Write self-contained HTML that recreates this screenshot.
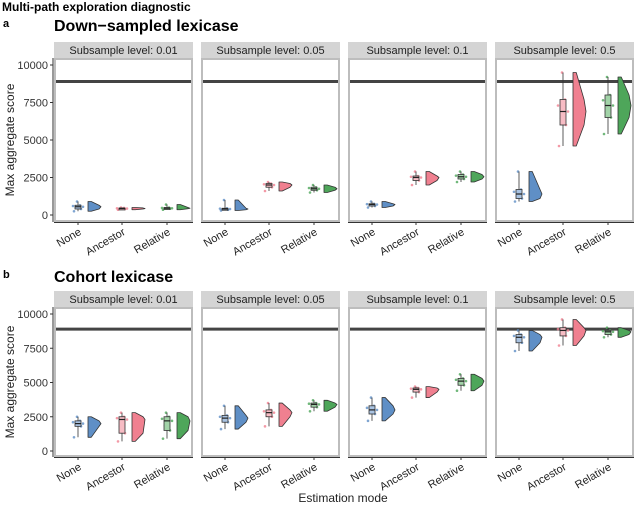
<!DOCTYPE html>
<html><head><meta charset="utf-8"><style>
body{margin:0;background:#fff;}
svg{display:block;font-family:"Liberation Sans",sans-serif;}
</style></head><body>
<svg id="c" width="640" height="508" viewBox="0 0 640 508"></svg>
<script>
const modes=["None","Ancestor","Relative"];
const levels=["0.01","0.05","0.1","0.5"];
const yTicks=[0,2500,5000,7500,10000];
const refLine=8900;
// stats per facet per mode: [min,q1,median,q3,max]
const downStats=[
 [[250,400,550,650,900],[350,400,430,470,500],[350,420,450,500,700]],
 [[300,350,400,450,1000],[1600,1850,2000,2100,2200],[1500,1650,1750,1850,2000]],
 [[500,600,700,750,900],[2000,2300,2500,2600,2900],[2200,2400,2550,2700,2900]],
 [[900,1100,1400,1700,2900],[4600,6000,6900,7700,9500],[5400,6500,7300,8000,9200]]
];
const cohortStats=[
 [[1000,1800,2000,2200,2500],[700,1300,2300,2500,2800],[900,1500,2200,2500,2800]],
 [[1600,2100,2400,2600,3300],[1800,2500,2800,3000,3500],[2900,3200,3400,3500,3700]],
 [[2200,2700,3000,3300,3900],[3900,4300,4500,4600,4700],[4400,4800,5100,5300,5600]],
 [[7300,7900,8300,8500,8800],[7700,8400,8800,9000,9600],[8300,8500,8700,8800,9000]]
];
const colors=["#5f8fc6","#f08090","#4ea65a"];
const light=["#a9c3e2","#f7bcc4","#a2d3a8"];
const NS="http://www.w3.org/2000/svg";
const svg=document.getElementById("c");
function el(t,a,p){const e=document.createElementNS(NS,t);for(const k in a)e.setAttribute(k,a[k]);(p||svg).appendChild(e);return e;}
function txt(s,a,p){const e=el("text",a,p);e.textContent=s;return e;}
const facetX=[54,201,348,495],facetW=139,catOff=[24,68,113];

let t=txt("Multi-path exploration diagnostic",{x:2,y:11,"font-size":12,"font-weight":"bold"});


function panel(stats,o){
 const g=el("g",{});
 
 let e=txt(o.letter,{x:3,y:o.titleY-4,"font-size":11,"font-weight":"bold"},g);
 
 e=txt(o.title,{x:54,y:o.titleY,"font-size":16,"font-weight":"bold"},g);
 
 const y=v=>o.y0-(v/10000)*(o.y0-o.y10k);
 // y axis
 e=el("line",{x1:53,x2:53,y1:o.top,y2:o.bottom,stroke:"#333","stroke-width":1},g);
 
 yTicks.forEach(v=>{
  el("line",{x1:50,x2:53,y1:y(v),y2:y(v),stroke:"#333"},g);
  const l=txt(String(v),{x:48,y:y(v)+4,"font-size":11,"text-anchor":"end",fill:"#333"},g);
  
 });
 e=txt("Max aggregate score",{x:0,y:0,"font-size":12,"text-anchor":"middle",fill:"#222",transform:`translate(14,${(o.top+o.bottom)/2}) rotate(-90)`},g);
 
 levels.forEach((lv,fi)=>{
  const fx=facetX[fi];
  const fg=el("g",{},g);
  
  let s=el("rect",{x:fx,y:o.stripTop,width:facetW,height:o.top-o.stripTop,fill:"#d4d4d4"},fg);
  
  s=txt("Subsample level: "+lv,{x:fx+facetW/2,y:o.stripTop+12,"font-size":11,"text-anchor":"middle",fill:"#222"},fg);
  
  el("rect",{x:fx+1,y:o.top+1,width:facetW-2,height:o.bottom-o.top-2,fill:"none",stroke:"#bdbdbd","stroke-width":2},fg);
  el("line",{x1:fx,x2:fx+facetW,y1:o.bottom+0.5,y2:o.bottom+0.5,stroke:"#333"},fg);
  s=el("line",{x1:fx+2,x2:fx+facetW-2,y1:y(refLine),y2:y(refLine),stroke:"#444","stroke-width":3},fg);
  
  modes.forEach((m,mi)=>{
   const cx=fx+catOff[mi];const st=stats[fi][mi];
   el("line",{x1:cx,x2:cx,y1:o.bottom,y2:o.bottom+3,stroke:"#333"},fg);
   const tl=txt(m,{x:0,y:0,"font-size":11,"text-anchor":"end",fill:"#222",transform:`translate(${cx+4},${o.bottom+12}) rotate(-30)`},fg);
   
   const [mn,q1,md,q3,mx]=st;
   // half violin
   const vx=cx+10,W=13;
   const prof=[[mn,0.25],[q1,0.85],[md,1],[q3,0.85],[mx,0.25]];
   let d=`M${vx},${y(mn)}`;
   prof.forEach(p=>{d+=` L${vx+p[1]*W},${y(p[0])}`;});
   d+=` L${vx},${y(mx)} Z`;
   const v=el("path",{d:d,fill:colors[mi],stroke:"#333","stroke-width":0.8,"stroke-linejoin":"round"},fg);
   
   // jitter points
   const pts=[mn,q1,(q1+md)/2,md,(md+q3)/2,q3,mx];
   const jit=[-4,3,-2,5,-5,2,-1];
   pts.forEach((p,k)=>{
    const c=el("circle",{cx:cx+jit[k],cy:y(p),r:1.3,fill:colors[mi],opacity:0.8},fg);
    
   });
   // box
   el("line",{x1:cx,x2:cx,y1:y(mn),y2:y(mx),stroke:"#333","stroke-width":0.8},fg);
   const b=el("rect",{x:cx-3,y:y(q3),width:6,height:Math.max(y(q1)-y(q3),2),fill:light[mi],stroke:"#333","stroke-width":0.8},fg);
   
   el("line",{x1:cx-3,x2:cx+3,y1:y(md),y2:y(md),stroke:"#222","stroke-width":1.2},fg);
  });
 });
}
panel(downStats,{name:"panel-a-down-sampled",letter:"a",title:"Down\u2212sampled lexicase",titleY:31,stripTop:42,top:58,bottom:222,y0:215,y10k:65});
panel(cohortStats,{name:"panel-b-cohort",letter:"b",title:"Cohort lexicase",titleY:282,stripTop:291,top:307,bottom:457,y0:451,y10k:314});
t=txt("Estimation mode",{x:343,y:502,"font-size":12,"text-anchor":"middle",fill:"#222"});

</script>
</body></html>
